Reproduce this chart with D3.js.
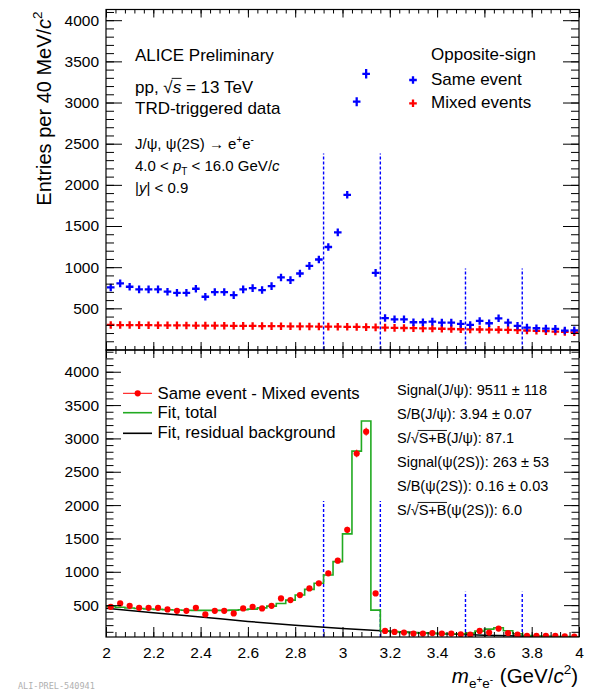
<!DOCTYPE html>
<html>
<head>
<meta charset="utf-8">
<script src="https://cdn.jsdelivr.net/npm/d3@7"></script>
<style>
  body { margin: 0; background: #fff; }
  svg { display: block; font-family: "Liberation Sans", Arial, Helvetica, sans-serif; }
  text { white-space: pre; }
</style>
</head>
<body>
<svg id="chart" width="589" height="690"></svg>
<script>
// Invariant-mass bins (GeV/c^2), 40 MeV wide, given by their centres
const massBins = [
  2.02, 2.06, 2.10, 2.14, 2.18, 2.22, 2.26, 2.30, 2.34, 2.38,
  2.42, 2.46, 2.50, 2.54, 2.58, 2.62, 2.66, 2.70, 2.74, 2.78,
  2.82, 2.86, 2.90, 2.94, 2.98, 3.02, 3.06, 3.10, 3.14, 3.18,
  3.22, 3.26, 3.30, 3.34, 3.38, 3.42, 3.46, 3.50, 3.54, 3.58,
  3.62, 3.66, 3.70, 3.74, 3.78, 3.82, 3.86, 3.90, 3.94, 3.98
];
const binWidth = 0.04;

// Opposite-sign pairs, same event
const sameEvent = [
  754, 803, 762, 730, 730, 730, 702, 689, 689, 738,
  641, 698, 698, 661, 730, 746, 722, 770, 875, 843,
  923, 1016, 1093, 1245, 1423, 1879, 3010, 3349, 931, 382,
  367, 367, 331, 331, 339, 327, 327, 311, 298, 347,
  319, 379, 327, 288, 266, 258, 254, 250, 230, 232
];

// Opposite-sign pairs, mixed events
const mixedEvents = [
  298, 297, 297, 296, 295, 294, 294, 293, 292, 291,
  290, 290, 289, 288, 287, 286, 285, 284, 283, 282,
  281, 280, 279, 278, 277, 276, 274, 272, 269, 266,
  263, 261, 259, 257, 255, 252, 249, 246, 245, 243,
  241, 240, 238, 235, 231, 227, 223, 218, 213, 209
];

// Same event - mixed events
const subtracted = [
  474, 525, 490, 459, 459, 459, 435, 414, 414, 459,
  360, 414, 414, 375, 450, 474, 450, 490, 601, 575,
  651, 751, 827, 977, 1167, 1629, 2774, 3101, 676, 113,
  98, 89, 74, 74, 81, 74, 74, 63, 58, 113,
  89, 149, 81, 58, 38, 38, 38, 38, 30, 29
];

// Fit, total (per bin)
const fitTotal = [
  480, 468, 458, 449, 442, 436, 431, 427, 424, 422,
  421, 421, 422, 425, 430, 440, 459, 485, 525, 575,
  651, 736, 827, 952, 1152, 1569, 2809, 3261, 425, 115,
  100, 92, 85, 80, 76, 72, 70, 70, 80, 110,
  140, 160, 115, 70, 45, 38, 33, 30, 28, 26
];

// Fit, residual background
const bkgMass = [2.0, 2.2, 2.4, 2.6, 2.8, 3.0, 3.2, 3.4, 3.6, 3.8, 4.0];
const bkgFit  = [455, 385, 322, 255, 200, 150, 108, 75, 50, 33, 22];

// Signal integration windows and the heights of their markers
const jpsiWindow = [2.92, 3.16];
const psi2sWindow = [3.52, 3.76];
const windowHeightTop = [2380, 985];
const windowHeightBottom = [2060, 700];

// Axis ticks
const xTickLabels = [2, 2.2, 2.4, 2.6, 2.8, 3, 3.2, 3.4, 3.6, 3.8, 4];
const yTickLabels = [500, 1000, 1500, 2000, 2500, 3000, 3500, 4000];

// ---------------------------------------------------------------
const svg = d3.select("#chart");
const L = 106, R = 579;
const topY0 = 9.5, midY = 350, botY = 637;

const x = d3.scaleLinear().domain([2, 4]).range([L, R]);
const yTop = d3.scaleLinear().domain([0, 4130]).range([349.5, topY0]);
const yBot = d3.scaleLinear().domain([22, 4326]).range([botY, midY]);

const BLUE = "#0000ff", RED = "#ff0000", GREEN = "#22aa22";

// clip regions for each pad
const defs = svg.append("defs");
defs.append("clipPath").attr("id", "clipTop").append("rect")
  .attr("x", L).attr("y", topY0).attr("width", R - L).attr("height", midY - topY0);
defs.append("clipPath").attr("id", "clipBot").append("rect")
  .attr("x", L).attr("y", midY).attr("width", R - L).attr("height", botY - midY);

// text made of styled pieces laid out left to right
function rich(parent, px, py, segs, opts) {
  const size = opts.size;
  const g = parent.append("g");
  let cx = 0;
  segs.forEach(s => {
    const fs = s.size || size;
    const t = g.append("text")
      .attr("x", cx).attr("y", s.dy || 0)
      .attr("font-size", fs)
      .attr("fill", opts.fill || "#000")
      .text(s.t);
    if (s.italic) t.attr("font-style", "italic");
    const w = t.node().getComputedTextLength();
    if (s.over) {
      g.append("line")
        .attr("x1", cx - (s.overPad || 0)).attr("x2", cx + w + 0.5)
        .attr("y1", -size * 0.83).attr("y2", -size * 0.83)
        .attr("stroke", "#000").attr("stroke-width", 0.9);
    }
    cx += w + (s.gap || 0);
  });
  let shift = 0;
  if (opts.anchor === "end") shift = -cx;
  if (opts.anchor === "middle") shift = -cx / 2;
  const rot = opts.rotate ? ` rotate(${opts.rotate})` : "";
  g.attr("transform", `translate(${px},${py})${rot} translate(${shift},0)`);
  return g;
}

// ---------------- pad contents ----------------
function windows(g, yScale, heights, y0) {
  [jpsiWindow, psi2sWindow].forEach((w, i) => {
    w.forEach(m => {
      g.append("line")
        .attr("x1", x(m)).attr("x2", x(m))
        .attr("y1", yScale(y0)).attr("y2", yScale(heights[i]))
        .attr("stroke", BLUE).attr("stroke-width", 1.4)
        .attr("stroke-dasharray", "3,2");
    });
  });
}

function crosses(g, values, color, sigma) {
  const arm = 3.8;
  g.selectAll(null).data(values).enter().append("path")
    .attr("d", (v, i) => {
      const cx = x(massBins[i]), cy = yTop(v);
      const e = Math.max(arm, cy - yTop(v + sigma(i)));
      return `M${cx - arm},${cy}H${cx + arm}M${cx},${cy - e}V${cy + e}`;
    })
    .attr("stroke", color).attr("stroke-width", 2.3).attr("fill", "none");
}

// upper pad
const gTop = svg.append("g").attr("clip-path", "url(#clipTop)");
windows(gTop, yTop, windowHeightTop, 0);
crosses(gTop, mixedEvents, RED, i => Math.sqrt(mixedEvents[i]) * 0.2);
crosses(gTop, sameEvent, BLUE, i => Math.sqrt(sameEvent[i]));

// lower pad
const gBot = svg.append("g").attr("clip-path", "url(#clipBot)");
windows(gBot, yBot, windowHeightBottom, 22);

// residual background
gBot.append("path")
  .datum(bkgMass.map((m, i) => [m, bkgFit[i]]))
  .attr("d", d3.line().x(d => x(d[0])).y(d => yBot(d[1])).curve(d3.curveMonotoneX))
  .attr("fill", "none").attr("stroke", "#000").attr("stroke-width", 1.5);

// total fit as a step histogram
const stepPts = [];
massBins.forEach((m, i) => {
  stepPts.push([m - binWidth / 2, fitTotal[i]]);
  stepPts.push([m + binWidth / 2, fitTotal[i]]);
});
gBot.append("path")
  .datum(stepPts)
  .attr("d", d3.line().x(d => x(d[0])).y(d => yBot(d[1])))
  .attr("fill", "none").attr("stroke", GREEN).attr("stroke-width", 1.6);

// subtracted spectrum
gBot.selectAll(null).data(subtracted).enter().append("line")
  .attr("x1", (v, i) => x(massBins[i])).attr("x2", (v, i) => x(massBins[i]))
  .attr("y1", (v, i) => yBot(v - Math.sqrt(sameEvent[i] + mixedEvents[i])))
  .attr("y2", (v, i) => yBot(v + Math.sqrt(sameEvent[i] + mixedEvents[i])))
  .attr("stroke", RED).attr("stroke-width", 1);
gBot.selectAll(null).data(subtracted).enter().append("circle")
  .attr("cx", (v, i) => x(massBins[i])).attr("cy", v => yBot(v))
  .attr("r", 3.1).attr("fill", RED);

// ---------------- frames and axes ----------------
const axes = svg.append("g").attr("font-size", 15);
const yMinorTop = d3.range(0, 4130, 100);
const yMinorBot = d3.range(100, 4326, 100);
const xMinor = d3.range(0, 51).map(k => 2 + k * binWidth);

function yAxes(yScale, minor, majLen, minLen) {
  const left = axes.append("g").attr("transform", `translate(${L},0)`);
  left.call(d3.axisLeft(yScale).tickValues(minor).tickSizeInner(-minLen).tickSizeOuter(0).tickFormat(""));
  const lab = axes.append("g").attr("transform", `translate(${L},0)`);
  lab.call(d3.axisLeft(yScale).tickValues(yTickLabels).tickSizeInner(-majLen).tickSizeOuter(0)
    .tickPadding(7).tickFormat(d3.format("d")));
  const right = axes.append("g").attr("transform", `translate(${R},0)`);
  right.call(d3.axisRight(yScale).tickValues(minor).tickSizeInner(-minLen).tickSizeOuter(0).tickFormat(""));
  right.append("g").call(d3.axisRight(yScale).tickValues(yTickLabels).tickSizeInner(-majLen).tickSizeOuter(0).tickFormat(""));
}
yAxes(yTop, yMinorTop, 16, 8);
yAxes(yBot, yMinorBot, 15, 7.5);

function xAxis(yPos, up, majLen, minLen, labels) {
  const g = axes.append("g").attr("transform", `translate(0,${yPos})`);
  const mk = up ? d3.axisBottom : d3.axisTop;
  g.call(mk(x).tickValues(xMinor).tickSizeInner(-minLen).tickSizeOuter(0).tickFormat(""));
  const gm = axes.append("g").attr("transform", `translate(0,${yPos})`);
  gm.call(mk(x).tickValues(xTickLabels).tickSizeInner(-majLen).tickSizeOuter(0)
    .tickPadding(10).tickFormat(labels ? (d => String(d)) : ""));
}
xAxis(topY0, false, 8, 4, false);   // top of upper pad
xAxis(midY, true, 8, 4, false);     // bottom of upper pad
xAxis(midY, false, 8, 4, false);    // top of lower pad
xAxis(botY, true, 10, 5, true);     // bottom of lower pad

axes.selectAll(".domain").remove();
axes.selectAll("line").attr("stroke", "#000").attr("stroke-width", 1);
axes.selectAll("text").attr("fill", "#000").attr("font-family", "Liberation Sans, Arial, sans-serif").attr("font-size", 15.5);

// pad frames
svg.append("rect").attr("x", L).attr("y", topY0).attr("width", R - L).attr("height", midY - topY0)
  .attr("fill", "none").attr("stroke", "#000").attr("stroke-width", 1.2);
svg.append("rect").attr("x", L).attr("y", midY).attr("width", R - L).attr("height", botY - midY)
  .attr("fill", "none").attr("stroke", "#000").attr("stroke-width", 1.2);

// ---------------- axis titles ----------------
rich(svg, 51, 108.5, [
  { t: "Entries per 40 MeV/" },
  { t: "c", italic: true },
  { t: "2", size: 13.5, dy: -9 }
], { size: 20, anchor: "middle", rotate: -90 });

rich(svg, 578, 683, [
  { t: "m", italic: true },
  { t: "e", size: 13.5, dy: 5 },
  { t: "+", size: 10, dy: 0 },
  { t: "e", size: 13.5, dy: 5 },
  { t: "-", size: 10, dy: 0, gap: 1 },
  { t: " (GeV/" },
  { t: "c", italic: true },
  { t: "2", size: 13.5, dy: -9 },
  { t: ")" }
], { size: 20.5, anchor: "end" });

// ---------------- upper pad annotations ----------------
rich(svg, 135, 61, [{ t: "ALICE Preliminary" }], { size: 17 });
rich(svg, 135, 92.5, [
  { t: "pp, " },
  { t: "\u221A" },
  { t: "s", italic: true, over: true, overPad: 1 },
  { t: " = 13 TeV" }
], { size: 17 });
rich(svg, 135, 114, [{ t: "TRD-triggered data" }], { size: 17 });
rich(svg, 135, 149, [
  { t: "J/\u03C8, \u03C8(2S) \u2192 e" },
  { t: "+", size: 10, dy: -6.5 },
  { t: "e" },
  { t: "-", size: 10, dy: -6.5 }
], { size: 15 });
rich(svg, 135, 170.5, [
  { t: "4.0 < " },
  { t: "p", italic: true },
  { t: "T", size: 10, dy: 4.5 },
  { t: " < 16.0 GeV/" },
  { t: "c", italic: true }
], { size: 15 });
rich(svg, 135, 192.5, [
  { t: "|" },
  { t: "y", italic: true },
  { t: "| < 0.9" }
], { size: 15 });

// upper legend
const legTop = svg.append("g");
rich(legTop, 431, 60, [{ t: "Opposite-sign" }], { size: 17 });
rich(legTop, 431, 84.5, [{ t: "Same event" }], { size: 17 });
rich(legTop, 431, 108, [{ t: "Mixed events" }], { size: 17 });
[[80, BLUE], [103.3, RED]].forEach(([yy, c]) => {
  legTop.append("path")
    .attr("d", `M${413 - 3.8},${yy}H${413 + 3.8}M413,${yy - 3.8}V${yy + 3.8}`)
    .attr("stroke", c).attr("stroke-width", 2.3);
});

// ---------------- lower pad annotations ----------------
const legBot = svg.append("g");
[[393.3, RED], [412.7, GREEN], [433.3, "#000"]].forEach(([yy, c]) => {
  legBot.append("line").attr("x1", 123).attr("x2", 152).attr("y1", yy).attr("y2", yy)
    .attr("stroke", c).attr("stroke-width", c === RED ? 1 : 1.6);
});
legBot.append("circle").attr("cx", 137.7).attr("cy", 393.3).attr("r", 3.1).attr("fill", RED);
rich(legBot, 157.5, 398.5, [{ t: "Same event - Mixed events" }], { size: 16.7 });
rich(legBot, 157.5, 418, [{ t: "Fit, total" }], { size: 16.7 });
rich(legBot, 157.5, 438, [{ t: "Fit, residual background" }], { size: 16.7 });

const stats = svg.append("g");
rich(stats, 397, 394.5, [{ t: "Signal(J/\u03C8): 9511 \u00B1 118" }], { size: 14.5 });
rich(stats, 397, 418.5, [{ t: "S/B(J/\u03C8): 3.94 \u00B1 0.07" }], { size: 14.5 });
rich(stats, 397, 442.5, [
  { t: "S/" }, { t: "\u221A" }, { t: "S+B", over: true, overPad: 1 }, { t: "(J/\u03C8): 87.1" }
], { size: 14.5 });
rich(stats, 397, 466.5, [{ t: "Signal(\u03C8(2S)): 263 \u00B1 53" }], { size: 14.5 });
rich(stats, 397, 490.5, [{ t: "S/B(\u03C8(2S)): 0.16 \u00B1 0.03" }], { size: 14.5 });
rich(stats, 397, 514.5, [
  { t: "S/" }, { t: "\u221A" }, { t: "S+B", over: true, overPad: 1 }, { t: "(\u03C8(2S)): 6.0" }
], { size: 14.5 });

// figure id
svg.append("text").attr("x", 18).attr("y", 688.5).attr("font-size", 8.5)
  .attr("font-family", "DejaVu Sans Mono, monospace").attr("fill", "#b0b0b0")
  .text("ALI-PREL-540941");
</script>
</body>
</html>
